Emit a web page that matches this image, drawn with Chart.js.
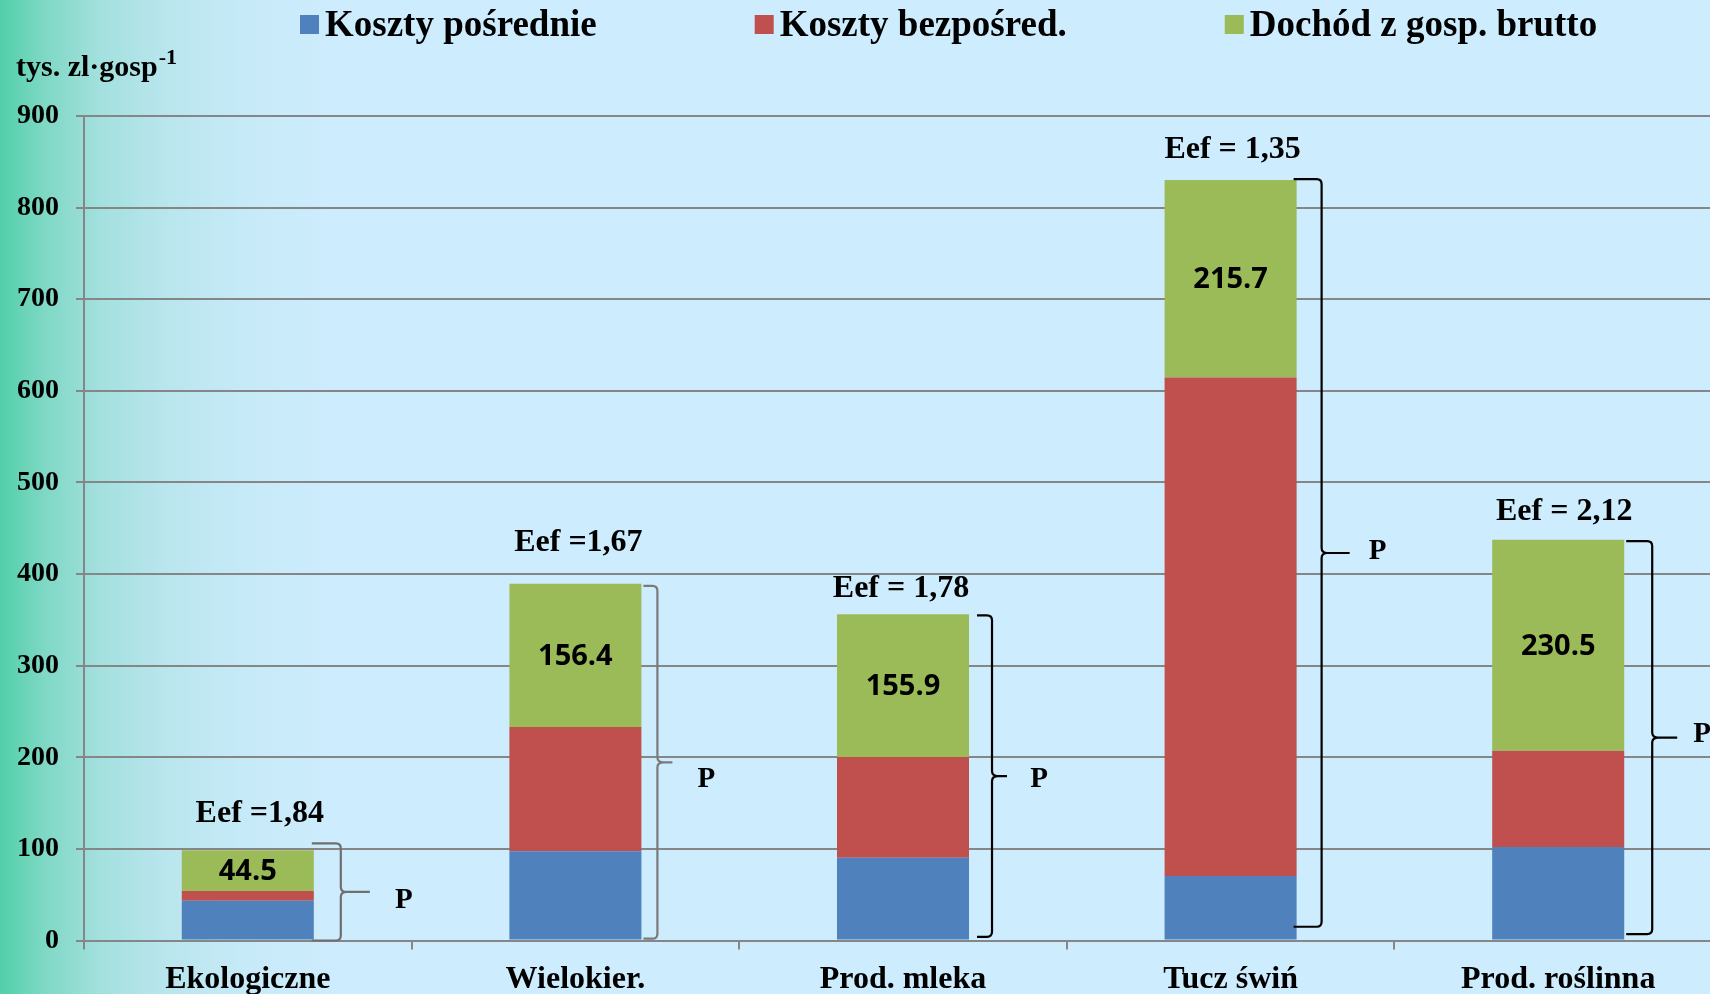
<!DOCTYPE html>
<html><head><meta charset="utf-8">
<script src="https://cdn.jsdelivr.net/npm/chart.js@4.4.1/dist/chart.umd.min.js"></script>
<style>
html,body{margin:0;padding:0;width:1710px;height:994px;overflow:hidden;}
body{background:linear-gradient(90deg,#52cfa9 0px,#7fd8c5 45px,#a3e0de 100px,#bae6ee 170px,#c7eaf8 250px,#cdecfd 330px,#cdecfd 100%);}
#wrap{position:absolute;left:0;top:0;width:1724px;height:1000px;}
</style></head><body>
<div id="wrap"><canvas id="c" width="1724" height="1000"></canvas></div>
<script>
// ---- data ----
const categories = ['Ekologiczne', 'Wielokier.', 'Prod. mleka', 'Tucz świń', 'Prod. roślinna'];
const seriesNames = ['Koszty pośrednie', 'Koszty bezpośred.', 'Dochód z gosp. brutto'];
const kosztyPosrednie = [43.5, 97.5, 90.4, 70.5, 102];
const kosztyBezposred = [10.5, 135.5, 109.8, 544, 105];
const dochodBrutto = [44.5, 156.4, 155.9, 215.7, 230.5];
const eefLabels = ['Eef =1,84', 'Eef =1,67', 'Eef = 1,78', 'Eef = 1,35', 'Eef = 2,12'];
const braceTop = [106, 387, 355, 831, 436];
const braceBottom = [0, 2, 4, 15, 7];
const braceLabel = 'P';
const yTicks = [0, 100, 200, 300, 400, 500, 600, 700, 800, 900];
const yTitle = 'tys. zl\u00B7gosp';
const yTitleSup = '-1';

const serif = '"Liberation Serif", "Times New Roman", serif';

const annotPlugin = {
  id: 'annot',
  afterDatasetsDraw(chart, args, opts) {
    const ctx = chart.ctx;
    const ys = chart.scales.y;
    const top = chart.getDatasetMeta(2).data;
    ctx.save();
    // value labels in green segments
    ctx.font = '700 29px "Open Sans", sans-serif';
    ctx.fillStyle = '#000';
    ctx.textAlign = 'center';
    ctx.textBaseline = 'middle';
    top.forEach((bar, i) => {
      ctx.fillText(String(dochodBrutto[i]), bar.x, (bar.y + bar.base) / 2 + 1);
    });
    // Eef labels
    ctx.font = 'bold 32px ' + serif;
    ctx.textBaseline = 'alphabetic';
    top.forEach((bar, i) => {
      const o = opts.eef[i];
      ctx.fillText(eefLabels[i], bar.x + o.dx, bar.y - o.dy);
    });
    // braces
    top.forEach((bar, i) => {
      const b = opts.braces[i];
      const right = bar.x + bar.width / 2;
      const xv = right + b.dx;
      const x0 = xv - b.arm;
      const yT = ys.getPixelForValue(braceTop[i]);
      const yB = ys.getPixelForValue(braceBottom[i]);
      const yM = (yT + yB) / 2;
      ctx.strokeStyle = b.color;
      ctx.lineWidth = 2.2;
      ctx.beginPath();
      ctx.moveTo(x0, yT);
      ctx.lineTo(xv - 5, yT);
      ctx.quadraticCurveTo(xv, yT, xv, yT + 5);
      ctx.lineTo(xv, yM - 5);
      ctx.quadraticCurveTo(xv, yM, xv + 6, yM);
      ctx.quadraticCurveTo(xv, yM, xv, yM + 5);
      ctx.lineTo(xv, yB - 5);
      ctx.quadraticCurveTo(xv, yB, xv - 5, yB);
      ctx.lineTo(x0, yB);
      ctx.moveTo(xv + 6, yM);
      ctx.lineTo(xv + b.tip, yM);
      ctx.stroke();
      ctx.fillStyle = '#000';
      ctx.font = 'bold 29px ' + serif;
      ctx.textAlign = 'center';
      ctx.textBaseline = 'middle';
      ctx.fillText(braceLabel, xv + b.pdx, yM + 2 + b.pdy);
    });
    ctx.restore();
  }
};

const legendPlugin = {
  id: 'customLegend',
  afterDraw(chart, args, opts) {
    const ctx = chart.ctx;
    ctx.save();
    ctx.font = 'bold 37px ' + serif;
    ctx.textBaseline = 'alphabetic';
    ctx.textAlign = 'left';
    let x = opts.x;
    chart.data.datasets.forEach(ds => {
      ctx.fillStyle = ds.backgroundColor;
      ctx.fillRect(x, opts.boxTop, opts.box, opts.box);
      x += opts.box + opts.textGap;
      ctx.fillStyle = '#000';
      ctx.fillText(ds.label, x, opts.baseline);
      x += ctx.measureText(ds.label).width + opts.itemGap;
    });
    // y axis title
    ctx.font = 'bold 30px ' + serif;
    ctx.fillText(yTitle, opts.titleX, opts.titleBaseline);
    const w = ctx.measureText(yTitle).width;
    ctx.font = 'bold 22px ' + serif;
    ctx.fillText(yTitleSup, opts.titleX + w + 1, opts.titleBaseline - 12);
    ctx.restore();
  }
};

new Chart(document.getElementById('c'), {
  type: 'bar',
  data: {
    labels: categories,
    datasets: [
      { label: seriesNames[0], data: kosztyPosrednie, backgroundColor: '#4F81BD' },
      { label: seriesNames[1], data: kosztyBezposred, backgroundColor: '#C0504D' },
      { label: seriesNames[2], data: dochodBrutto, backgroundColor: '#9BBB59' }
    ]
  },
  options: {
    responsive: false,
    animation: false,
    devicePixelRatio: 1,
    layout: { padding: { top: 116, right: 2, left: 0, bottom: 0 } },
    datasets: { bar: { barPercentage: 0.403, categoryPercentage: 1, borderWidth: 0 } },
    plugins: {
      legend: { display: false },
      tooltip: { enabled: false },
      annot: {
        eef: [
          { dx: 12, dy: 28 }, { dx: 3, dy: 33 }, { dx: -2, dy: 17 }, { dx: 2, dy: 22 }, { dx: 6, dy: 20 }
        ],
        braces: [
          { dx: 27, arm: 29, tip: 29, pdx: 63, pdy: 7, color: '#6f6f6f' },
          { dx: 16, arm: 14, tip: 15, pdx: 49, pdy: 15, color: '#7a7a7a' },
          { dx: 23, arm: 15, tip: 15, pdx: 47, pdy: 1, color: '#000' },
          { dx: 25, arm: 28, tip: 28, pdx: 56, pdy: -3, color: '#000' },
          { dx: 28, arm: 26, tip: 25, pdx: 50, pdy: -5, color: '#000' }
        ]
      },
      customLegend: { x: 300, box: 19, boxTop: 15, textGap: 6, itemGap: 158, baseline: 36, titleX: 16, titleBaseline: 76 }
    },
    scales: {
      x: {
        stacked: true,
        offset: true,
        grid: { offset: true, drawOnChartArea: false, drawTicks: true, tickLength: 9, color: '#868686', lineWidth: 2 },
        border: { display: true, color: '#868686', width: 2 },
        ticks: { font: { family: serif, size: 32, weight: 'bold' }, color: '#000', padding: 11, maxRotation: 0, autoSkip: false },
        afterFit(s) { s.height = 59.5; }
      },
      y: {
        stacked: true,
        min: yTicks[0],
        max: yTicks[yTicks.length - 1],
        afterBuildTicks(s) { s.ticks = yTicks.map(v => ({ value: v })); },
        ticks: { font: { family: serif, size: 28, weight: 'bold' }, color: '#000', padding: 17 },
        grid: { color: '#868686', lineWidth: 2, tickLength: 8 },
        border: { color: '#868686', width: 2 },
        afterFit(s) { s.width = 84; }
      }
    }
  },
  plugins: [annotPlugin, legendPlugin]
});
</script>
</body></html>
